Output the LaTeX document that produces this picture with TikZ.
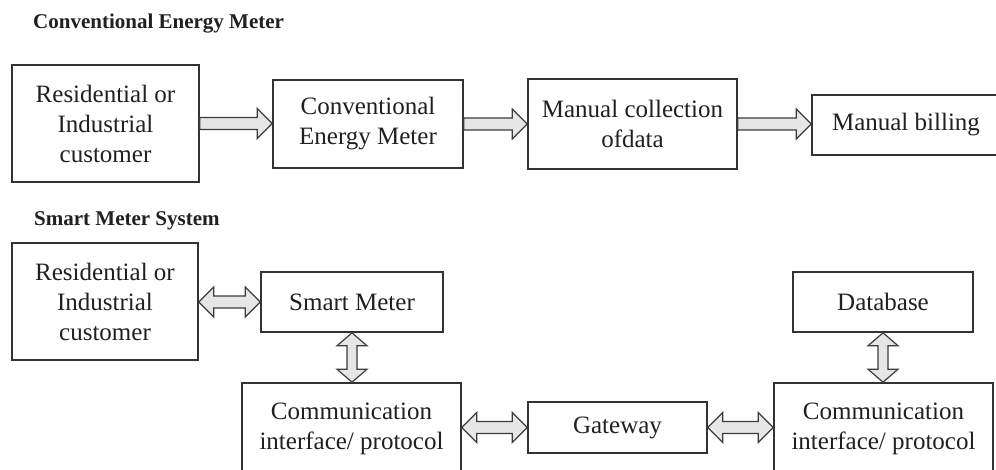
\documentclass[tikz,border=0pt]{standalone}
\usepackage{fontspec}
\setmainfont{Liberation Serif}
\usetikzlibrary{calc}
\definecolor{boxline}{HTML}{333333}
\definecolor{arrline}{HTML}{3C3C3C}
\definecolor{arrfill}{HTML}{E6E6E6}
\definecolor{txt}{HTML}{202020}
\tikzset{
  blk/.style={draw=boxline, line width=1.6pt, fill=white, align=center, inner sep=0pt,
    text=txt, font=\fontsize{25}{30}\selectfont},
  ttl/.style={anchor=base west, inner sep=0pt, text=txt, font=\fontsize{21}{24}\selectfont\bfseries},
  blockarrow/.style={draw=arrline, line width=1.2pt, fill=arrfill, line join=miter}
}
\newcommand{\RArr}[2]{%
  \draw[blockarrow] ($(#1)+(0,6)$) -- ($(#2)+(-15,6)$) -- ($(#2)+(-15,15)$) -- (#2)
   -- ($(#2)+(-15,-15)$) -- ($(#2)+(-15,-6)$) -- ($(#1)+(0,-6)$) -- cycle;}
\newcommand{\HDArr}[2]{%
  \draw[blockarrow] (#1) -- ($(#1)+(15,15)$) -- ($(#1)+(15,6)$) -- ($(#2)+(-15,6)$)
   -- ($(#2)+(-15,15)$) -- (#2) -- ($(#2)+(-15,-15)$) -- ($(#2)+(-15,-6)$)
   -- ($(#1)+(15,-6)$) -- ($(#1)+(15,-15)$) -- cycle;}
\newcommand{\VDArr}[2]{%
  \draw[blockarrow] (#1) -- ($(#1)+(15,-13)$) -- ($(#1)+(5,-13)$) -- ($(#2)+(5,13)$)
   -- ($(#2)+(15,13)$) -- (#2) -- ($(#2)+(-15,13)$) -- ($(#2)+(-5,13)$)
   -- ($(#1)+(-5,-13)$) -- ($(#1)+(-15,-13)$) -- cycle;}
\begin{document}
\begin{tikzpicture}[x=1pt,y=1pt]
\clip (0,0) rectangle (996,-470);
\fill[white] (0,0) rectangle (996,-470);

% Titles
\node[ttl] (t1) at (33,-29) {Conventional Energy Meter};
\node[ttl] (t2) at (34,-226) {Smart Meter System};

% Conventional row
\node[blk, minimum width=187pt, minimum height=117pt] (c1) at (105.5,-123.5)
  {Residential or\\Industrial\\customer};
\node[blk, minimum width=190pt, minimum height=88pt] (c2) at (368,-124)
  {Conventional\\Energy Meter};
\node[blk, minimum width=209pt, minimum height=90pt] (c3) at (632.5,-124)
  {Manual collection\\ofdata};
\node[blk, minimum width=188pt, minimum height=60pt] (c4) at (906,-125)
  {Manual billing};

\RArr{c1.east}{c1.east -| c2.west}
\RArr{c2.east}{c2.east -| c3.west}
\RArr{c3.east}{c3.east -| c4.west}

% Smart meter system
\node[blk, minimum width=186pt, minimum height=117pt] (s1) at (105,-301.5)
  {Residential or\\Industrial\\customer};
\node[blk, minimum width=182pt, minimum height=60pt] (sm) at (352,-302)
  {Smart Meter};
\node[blk, minimum width=219pt, minimum height=92pt] (ci1) at (351.5,-429)
  {Communication\\interface/ protocol};
\node[blk, minimum width=179pt, minimum height=51pt] (gw) at (617.5,-427.5)
  {Gateway};
\node[blk, minimum width=219pt, minimum height=92pt] (ci2) at (883.5,-429)
  {Communication\\interface/ protocol};
\node[blk, minimum width=180pt, minimum height=60pt] (db) at (883,-302)
  {Database};

\HDArr{s1.east |- sm.west}{sm.west}
\VDArr{sm.south}{sm.south |- ci1.north}
\HDArr{ci1.east |- gw.west}{gw.west}
\HDArr{gw.east}{gw.east -| ci2.west}
\VDArr{db.south}{db.south |- ci2.north}
\end{tikzpicture}
\end{document}
